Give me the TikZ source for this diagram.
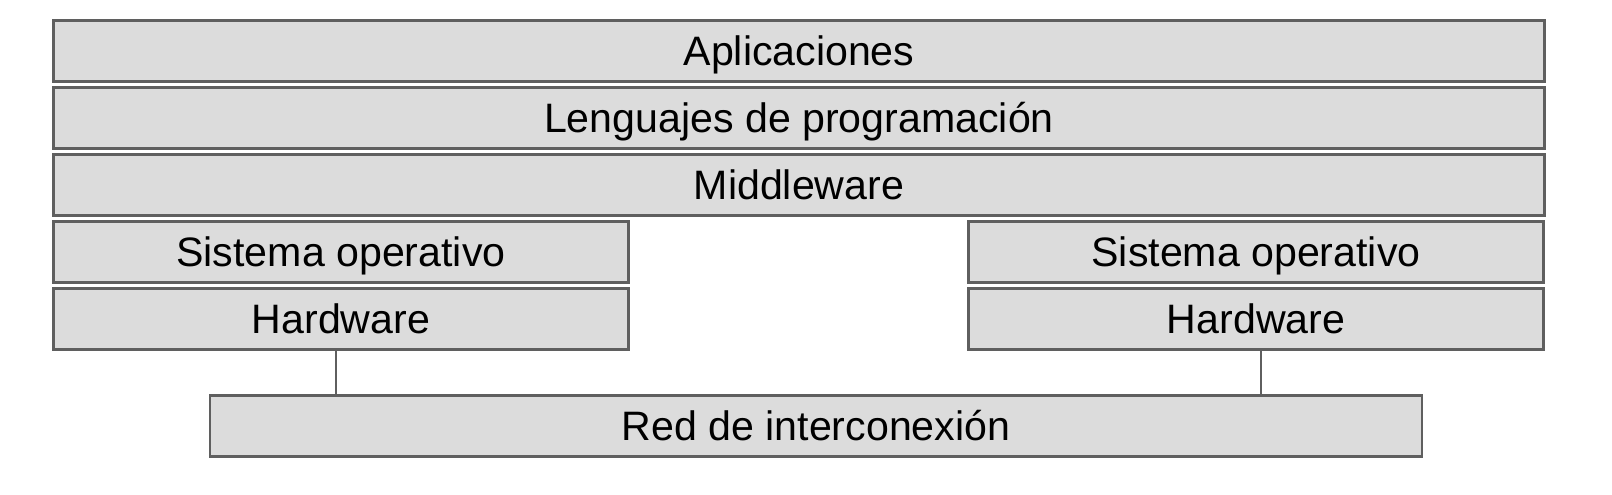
\documentclass[tikz,border=0pt]{standalone}
\usepackage{fontspec}
\setmainfont{Liberation Sans}
\usepackage{tikz}
\usetikzlibrary{positioning}

\definecolor{capafill}{RGB}{220,220,220}
\definecolor{capaline}{RGB}{95,95,95}

\tikzset{
  capa/.style={draw=capaline,fill=capafill,rectangle,line width=0.7pt,
    minimum height=0.61cm,inner sep=0pt,text=black,
    text height=0.294cm,text depth=0cm,
    font=\fontsize{11.7}{14}\selectfont},
  ancha/.style={capa,minimum width=14.91cm},
  media/.style={capa,minimum width=5.75cm},
  enlace/.style={draw=capaline,line width=0.6pt}
}

\begin{document}
\begin{tikzpicture}
            \useasboundingbox (0,0) rectangle (16.12,-4.95);
            \node [ancha] (apl) at (7.99,-0.51) {Aplicaciones};
            \node [ancha] (leng) at (7.99,-1.18) {Lenguajes de programación};
            \node [ancha] (mid) at (7.99,-1.85) {Middleware};
            \node [media] (sol) at (3.41,-2.52) {Sistema operativo};
            \node [media] (hwl) at (3.41,-3.19) {Hardware};
            \node [media] (sor) at (12.56,-2.52) {Sistema operativo};
            \node [media] (hwr) at (12.56,-3.19) {Hardware};
            \node [capa,minimum width=12.12cm] (red) at (8.16,-4.26) {Red de interconexión};
            \draw [enlace] ([xshift=-0.05cm]hwl.south) -- ([xshift=-0.05cm]hwl.south |- red.north);
            \draw [enlace] ([xshift=0.05cm]hwr.south) -- ([xshift=0.05cm]hwr.south |- red.north);
        \end{tikzpicture}
\end{document}
